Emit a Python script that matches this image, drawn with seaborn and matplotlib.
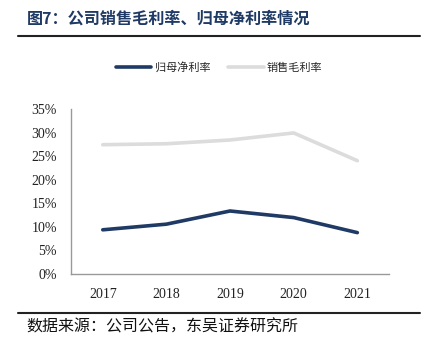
import matplotlib
matplotlib.use("Agg")
import matplotlib.pyplot as plt
import seaborn as sns
import pandas as pd
from matplotlib.lines import Line2D
from matplotlib.ticker import FixedLocator, PercentFormatter

years = ["2017", "2018", "2019", "2020", "2021"]
net_margin = [9.4, 10.6, 13.4, 12.0, 8.8]
gross_margin = [27.5, 27.7, 28.5, 30.0, 24.1]
series_names = ["归母净利率", "销售毛利率"]
title = "图7：公司销售毛利率、归母净利率情况"
source = "数据来源：公司公告，东吴证券研究所"

sns.set_style("white")
plt.rcParams['font.family'] = ['Noto Sans CJK SC', 'DejaVu Sans']

df = pd.DataFrame({
    "year": years * 2,
    "value": net_margin + gross_margin,
    "series": [series_names[0]] * len(years) + [series_names[1]] * len(years),
})

navy = "#1F3A64"
gray = "#DCDCDC"
palette = {series_names[0]: navy, series_names[1]: gray}

fig = plt.figure(figsize=(4.3, 3.45), dpi=100)
ax = fig.add_axes([0.165, 0.2058, 0.74, 0.477])
sns.lineplot(data=df, x="year", y="value", hue="series", palette=palette,
             linewidth=2.6, ax=ax, legend=False, sort=False)

ax.set_xlim(-0.5, 4.5)
ax.set_ylim(0, 35)
ax.set_yticks([0, 5, 10, 15, 20, 25, 30, 35])
ax.yaxis.set_major_formatter(PercentFormatter(decimals=0))
ax.set_xlabel("")
ax.set_ylabel("")
ax.xaxis.set_minor_locator(FixedLocator([-0.5, 0.5, 1.5, 2.5, 3.5, 4.5]))
ax.tick_params(axis="x", which="major", length=0, pad=10)
ax.tick_params(axis="x", which="minor", length=4, direction="in", color="#888888")
ax.tick_params(axis="y", which="major", length=4, direction="in", color="#888888", pad=10)
for lab in ax.get_xticklabels() + ax.get_yticklabels():
    lab.set_fontfamily("Liberation Serif")
    lab.set_fontsize(10)
    lab.set_color("#222222")
for s in ["top", "right"]:
    ax.spines[s].set_visible(False)
for s in ["left", "bottom"]:
    ax.spines[s].set_color("#999999")
    ax.spines[s].set_linewidth(1.0)

handles = [Line2D([0], [0], color=navy, lw=2.6), Line2D([0], [0], color=gray, lw=2.6)]
fig.legend(handles, series_names, loc="center", bbox_to_anchor=(0.51, 0.805), ncol=2,
           frameon=False, handlelength=3.2, handletextpad=0.3, columnspacing=1.6,
           prop={"family": ["Noto Sans CJK SC"], "size": 8})

fig.text(0.062, 0.947, title, fontsize=11.6, fontweight="bold", color="#1F3A64",
         va="center", ha="left")
fig.add_artist(Line2D([0.042, 0.977], [0.897, 0.897], color="#222222", lw=1.5,
                      transform=fig.transFigure))
fig.add_artist(Line2D([0.042, 0.977], [0.094, 0.094], color="#222222", lw=1.5,
                      transform=fig.transFigure))
fig.text(0.062, 0.052, source, fontsize=11.5, color="#111111", va="center", ha="left")

fig.savefig("out.png", dpi=100)
